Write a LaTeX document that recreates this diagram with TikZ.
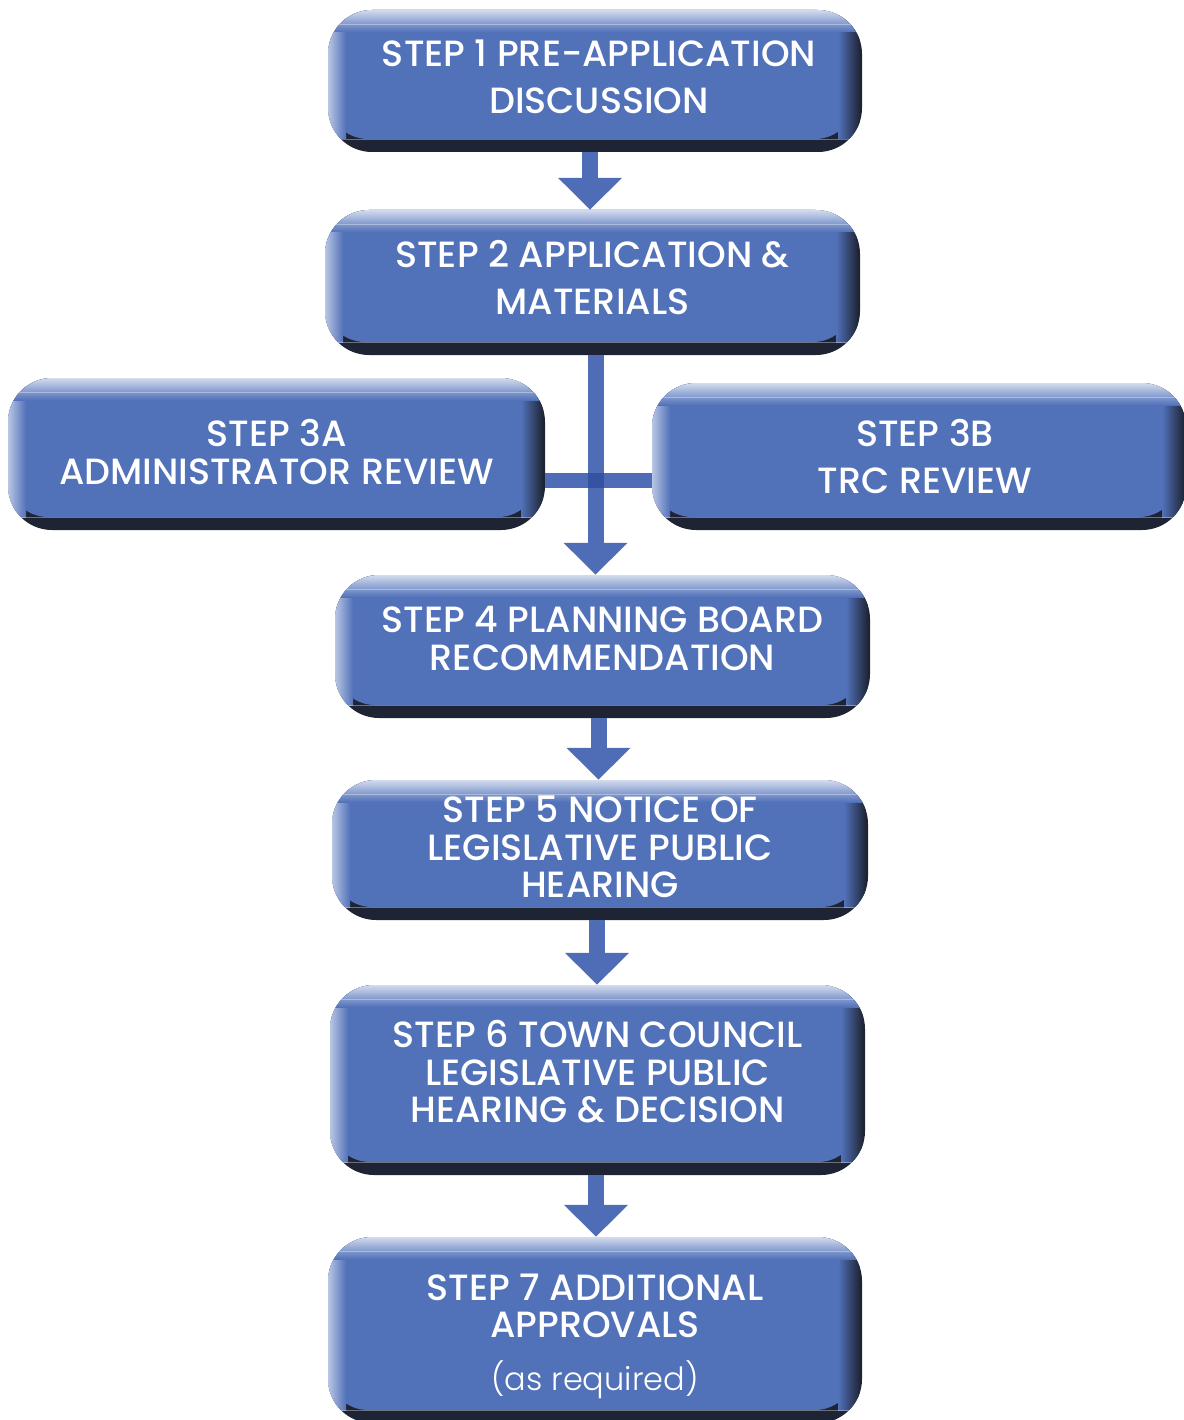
\documentclass[tikz,border=0pt]{standalone}
\usepackage{fontspec}
\setmainfont{Poppins}[BoldFont={Poppins Medium}]
\newfontfamily\lightfont{Poppins Light}
\usetikzlibrary{arrows.meta,calc}
\definecolor{boxmain}{HTML}{5171B9}
\definecolor{boxdark}{HTML}{1E2434}
\definecolor{boxlight}{HTML}{D3DCEE}
\definecolor{arrowcol}{HTML}{4F6DB6}
\definecolor{crosscol}{HTML}{3553A2}
\newcommand\stepfont{\fontsize{36.5}{37.5}\selectfont\bfseries}
\tikzset{
  stepbox/.style={shape=rectangle, rounded corners=44pt, fill=boxdark,
    inner sep=0pt,
    path picture={
      \fill[boxmain, rounded corners=40pt] (path picture bounding box.north west)
        rectangle ([xshift=-7pt,yshift=13pt]path picture bounding box.south east);
      \shade[sharp corners, left color=boxmain, right color=boxdark]
        ([xshift=-24pt,yshift=-4pt]path picture bounding box.north east)
        rectangle ([xshift=-2pt,yshift=13pt]path picture bounding box.south east);
      \shade[sharp corners, left color=boxlight!80!boxmain, right color=boxmain]
        (path picture bounding box.north west)
        rectangle ([xshift=18pt,yshift=13pt]path picture bounding box.south west);
      \shade[sharp corners, top color=boxlight, bottom color=boxmain]
        (path picture bounding box.north west)
        rectangle ([yshift=-22pt]path picture bounding box.north east);
      \draw[sharp corners, white, opacity=0.35, line width=0.8pt]
        ([yshift=-14pt]path picture bounding box.north west)
        -- ([yshift=-14pt]path picture bounding box.north east);
      \draw[sharp corners, white, opacity=0.35, line width=0.8pt]
        ([yshift=13pt]path picture bounding box.south west)
        -- ([yshift=13pt]path picture bounding box.south east);
    }},
  steptext/.style={text=white, align=center, inner sep=0pt, font=\stepfont,
    rounded corners=0pt, fill=none},
  conn/.style={draw=arrowcol, line width=16pt,
    -{Triangle[width=62pt,length=32pt]}},
  barline/.style={draw=arrowcol, line width=15pt},
  crossing/.style={fill=crosscol}
}
\begin{document}
\begin{tikzpicture}[x=1pt,y=-1pt]
\useasboundingbox (0,0) rectangle (1183,1420);

\node[stepbox, minimum width=534pt, minimum height=142pt,
  label={[steptext, yshift=4pt, xshift=4pt]center:{STEP 1 PRE-APPLICATION\\[9pt]DISCUSSION}}] (s1) at (595,81) {};
\node[stepbox, minimum width=535pt, minimum height=145pt,
  label={[steptext, yshift=5pt]center:{STEP 2 APPLICATION \&\\[9pt]MATERIALS}}] (s2) at (592.5,282.5) {};
\node[stepbox, minimum width=537pt, minimum height=152pt,
  label={[steptext, yshift=2pt]center:{STEP 3A\\ADMINISTRATOR REVIEW}}] (s3a) at (276.5,454) {};
\node[stepbox, minimum width=534pt, minimum height=147pt,
  label={[steptext, xshift=6pt]center:{STEP 3B\\[10pt]TRC REVIEW}}] (s3b) at (919,456.5) {};
\node[stepbox, minimum width=535pt, minimum height=143pt,
  label={[steptext, yshift=8pt]center:{STEP 4 PLANNING BOARD\\RECOMMENDATION}}] (s4) at (602.5,646.5) {};
\node[stepbox, minimum width=536pt, minimum height=140pt,
  label={[steptext, yshift=3pt]center:{STEP 5 NOTICE OF\\LEGISLATIVE PUBLIC\\HEARING}}] (s5) at (600,850) {};
\node[stepbox, minimum width=535pt, minimum height=190pt,
  label={[steptext, yshift=8pt]center:{STEP 6 TOWN COUNCIL\\LEGISLATIVE PUBLIC\\HEARING \& DECISION}}] (s6) at (597.5,1080) {};
\node[stepbox, minimum width=534pt, minimum height=186pt,
  label={[steptext, yshift=-6pt]center:{STEP 7 ADDITIONAL\\APPROVALS\\[15pt]{\lightfont\mdseries\fontsize{32}{37.5}\selectfont (as required)}}}] (s7) at (595,1330) {};

\coordinate (bus) at (595.5,480.5);

\draw[conn] ([xshift=-5pt]s1.south) -- ([xshift=-5pt]s1.south |- s2.north);
\draw[barline] (s3a.east |- bus) -- (s3b.west |- bus);
\draw[conn] (bus |- s2.south) -- (bus |- s4.north);
\fill[crossing] ($(bus)+(-8,-7.5)$) rectangle ($(bus)+(8,7.5)$);
\draw[conn] ([xshift=-4pt]s4.south) -- ([xshift=-4pt]s4.south |- s5.north);
\draw[conn] ([xshift=-3pt]s5.south) -- ([xshift=-3pt]s5.south |- s6.north);
\draw[conn] ([xshift=-1.5pt]s6.south) -- ([xshift=-1.5pt]s6.south |- s7.north);
\end{tikzpicture}
\end{document}
